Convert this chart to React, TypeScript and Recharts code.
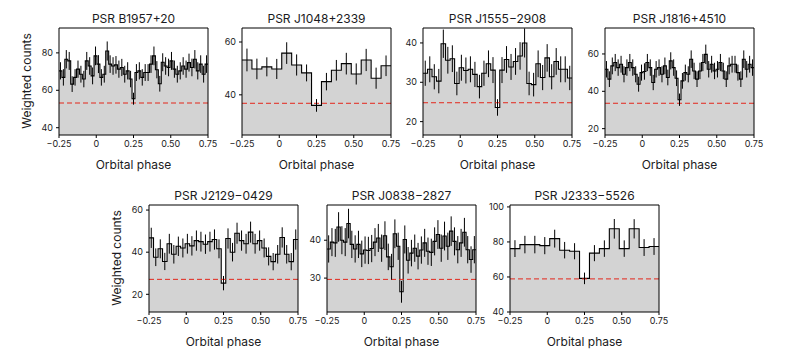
import React from 'react';
import { ComposedChart, Area, Scatter, ErrorBar, XAxis, YAxis, ReferenceLine } from 'recharts';

// ---------- data ----------
const X_TICKS = [-0.25, 0, 0.25, 0.5, 0.75];
const X_TICK_LABELS = ['\u22120.25', '0', '0.25', '0.50', '0.75'];

const b1957Counts = [70.4, 66.9, 76.6, 75.7, 63.3, 66.9, 71.3, 68.6, 66.0, 75.7, 73.0, 67.7, 78.4, 74.0, 66.9, 68.6, 81.0, 74.0, 73.0, 73.6, 71.3, 72.2, 68.6, 70.4, 66.0, 55.5, 69.5, 70.4, 66.9, 69.5, 69.5, 74.0, 78.4, 71.0, 63.5, 75.0, 73.0, 72.2, 75.7, 71.3, 68.6, 70.4, 73.0, 71.3, 74.8, 72.2, 76.6, 70.4, 74.0, 68.6, 74.0];
const b1957Errors = [4.6, 4.4, 4.9, 4.8, 4.2, 4.4, 4.6, 4.5, 4.4, 4.8, 4.7, 4.5, 5.0, 4.8, 4.4, 4.5, 5.1, 4.7, 4.7, 4.7, 4.6, 4.6, 4.5, 4.6, 4.4, 3.2, 4.5, 4.6, 4.4, 4.5, 4.5, 4.7, 5.0, 4.6, 4.2, 4.8, 4.7, 4.7, 4.8, 4.6, 4.5, 4.6, 4.7, 4.6, 4.8, 4.7, 4.9, 4.6, 4.7, 4.5, 4.7];

const j1048Counts = [53.2, 49.8, 50.6, 49.8, 55.8, 51.3, 48.3, 36.0, 45.0, 49.3, 51.8, 47.9, 53.2, 46.3, 51.0];
const j1048Errors = [4.3, 3.9, 3.6, 3.8, 4.1, 4.0, 3.2, 2.4, 3.3, 3.9, 4.1, 4.0, 4.2, 4.0, 3.9];

const j1555Counts = [32.3, 33.3, 31.4, 30.3, 39.8, 35.6, 36.0, 29.7, 33.7, 33.0, 33.3, 32.0, 28.9, 32.3, 34.7, 33.1, 23.6, 33.1, 35.8, 33.9, 35.3, 36.7, 40.0, 29.7, 29.4, 34.7, 31.2, 36.2, 31.4, 35.3, 33.3, 33.3, 31.1];
const j1555Errors = [3.2, 3.3, 3.2, 3.1, 3.6, 3.4, 3.4, 3.0, 3.3, 3.3, 3.3, 3.2, 3.0, 3.2, 3.4, 3.3, 2.1, 3.3, 3.4, 3.3, 3.4, 3.5, 3.7, 3.0, 3.0, 3.4, 3.2, 3.5, 3.2, 3.4, 3.3, 3.3, 3.1];

const j1816Counts = [51.8, 46.5, 53.6, 55.4, 52.7, 54.5, 49.1, 52.7, 55.4, 52.7, 49.1, 43.8, 50.0, 50.6, 55.4, 52.7, 44.7, 51.8, 52.7, 49.1, 53.6, 47.4, 56.3, 52.7, 47.0, 35.5, 45.6, 50.0, 49.1, 57.2, 50.9, 46.5, 50.9, 55.4, 59.8, 51.8, 54.5, 50.9, 51.8, 55.4, 50.9, 46.5, 53.6, 54.5, 54.5, 50.0, 46.5, 57.2, 51.8, 54.5, 52.7];
const j1816Errors = [4.4, 4.2, 4.5, 4.6, 4.4, 4.5, 4.3, 4.4, 4.6, 4.4, 4.3, 4.0, 4.3, 4.4, 4.6, 4.4, 4.1, 4.4, 4.4, 4.3, 4.5, 4.2, 4.6, 4.4, 4.2, 3.3, 4.2, 4.3, 4.3, 4.7, 4.4, 4.2, 4.4, 4.6, 5.2, 4.4, 4.5, 4.4, 4.4, 4.6, 4.4, 4.2, 4.5, 4.5, 4.5, 4.3, 4.2, 4.7, 4.4, 4.5, 4.4];

const j2129Counts = [46.8, 37.6, 41.6, 35.6, 44.0, 39.0, 42.8, 42.0, 44.0, 43.0, 45.5, 45.0, 43.8, 45.0, 46.0, 41.6, 25.3, 46.5, 40.0, 49.0, 45.5, 44.0, 49.5, 44.0, 45.5, 42.0, 38.0, 35.5, 39.0, 47.0, 39.0, 35.5, 46.0];
const j2129Errors = [4.8, 4.2, 4.5, 4.1, 4.7, 4.4, 4.6, 4.5, 4.7, 4.6, 4.8, 4.7, 4.6, 4.7, 4.8, 4.5, 3.4, 4.8, 4.4, 5.0, 4.8, 4.7, 5.0, 4.7, 4.8, 4.5, 4.3, 4.1, 4.4, 4.8, 4.4, 4.1, 4.8];

const j0838Counts = [37.7, 39.5, 39.3, 43.5, 40.0, 39.5, 44.4, 38.9, 37.7, 38.9, 36.4, 37.4, 37.3, 37.8, 39.5, 40.6, 37.9, 41.2, 35.6, 33.0, 41.7, 38.4, 26.4, 40.2, 34.7, 36.6, 37.9, 35.8, 37.4, 39.3, 37.1, 36.8, 39.7, 41.5, 37.9, 41.1, 38.4, 42.4, 39.7, 37.5, 39.3, 42.1, 37.5, 34.9, 37.5];
const j0838Errors = [3.6, 3.7, 3.7, 3.9, 3.7, 3.7, 3.9, 3.6, 3.6, 3.6, 3.5, 3.6, 3.6, 3.6, 3.7, 3.7, 3.6, 3.8, 3.5, 3.4, 3.8, 3.6, 2.9, 3.7, 3.5, 3.5, 3.6, 3.5, 3.6, 3.7, 3.6, 3.6, 3.7, 3.8, 3.6, 3.8, 3.6, 3.9, 3.7, 3.6, 3.7, 3.8, 3.6, 3.5, 3.6];

const j2333Counts = [76.2, 78.5, 78.5, 77.9, 81.9, 75.3, 74.7, 59.2, 73.6, 76.2, 87.5, 76.2, 87.5, 76.8, 77.4];
const j2333Errors = [4.8, 5.0, 5.0, 4.9, 5.1, 4.7, 4.6, 3.3, 4.6, 4.7, 5.6, 4.7, 5.5, 4.8, 4.8];

const titles = ['PSR B1957+20', 'PSR J1048+2339', 'PSR J1555\u22122908', 'PSR J1816+4510', 'PSR J2129\u22120429', 'PSR J0838\u22122827', 'PSR J2333\u22125526'];
const thresholds = [53.2, 36.8, 24.8, 33.6, 27.1, 29.66, 58.9];
const yDomains: [number, number][] = [[36.1, 93.3], [24.8, 65.3], [16.6, 43.8], [16.6, 73.9], [11.6, 62.4], [21.05, 49.3], [40, 101.1]];
const yTicks = [[40, 60, 80], [40, 60], [20, 30, 40], [20, 40, 60], [20, 40, 60], [30, 40], [40, 60, 80, 100]];
const X_LABEL = 'Orbital phase';
const Y_LABEL = 'Weighted counts';

// ---------- layout / style ----------
const FONT = 'Inter, "Noto Sans", sans-serif';
const TEXT = '#1b1b22';
const PLOT_W = 149;
const PLOT_H = 107;
const YW = 36;
const XH = 40;
const MR = 14;
const MT = 4;
const plotPos = [
  [59, 28], [242, 28], [423, 28], [605, 28],
  [149, 205], [327, 205], [510, 205],
];
const showYLabel = [true, false, false, false, true, false, false];

const EmptyShape = () => <g />;

function Panel({ idx, counts, errors }: { idx: number; counts: number[]; errors: number[] }) {
  const n = counts.length;
  const steps = counts.map((v, i) => ({ x: -0.25 + i / n, v }));
  steps.push({ x: 0.75, v: counts[n - 1] });
  const bars = counts.map((v, i) => ({ x: -0.25 + (i + 0.5) / n, v, e: errors[i] }));
  const [pl, pt] = plotPos[idx];
  const domain = yDomains[idx];
  const tickStyle = { fontSize: 9, fill: TEXT, fontFamily: FONT };
  const textBase: React.CSSProperties = {
    position: 'absolute', fontFamily: FONT, fontSize: 12, color: TEXT,
    textAlign: 'center', lineHeight: '16px', height: 16, whiteSpace: 'nowrap',
  };
  return (
    <>
      <div style={{ position: 'absolute', left: pl - YW, top: pt - MT }}>
        <ComposedChart
          width={YW + PLOT_W + MR}
          height={MT + PLOT_H + XH}
          data={steps}
          margin={{ top: MT, right: MR, bottom: 0, left: 0 }}
        >
          <XAxis
            dataKey="x" type="number" domain={[-0.25, 0.75]} ticks={X_TICKS} interval={0}
            allowDataOverflow height={XH} tickSize={3} tickMargin={3} stroke="#000"
            tick={tickStyle}
            tickFormatter={(v: number) => X_TICK_LABELS[X_TICKS.indexOf(v)] ?? String(v)}
          />
          <YAxis
            type="number" domain={domain} ticks={yTicks[idx]} interval={0} allowDataOverflow
            width={YW} tickSize={3} tickMargin={3} stroke="#000" tick={tickStyle}
          />
          <Area
            type="stepAfter" dataKey="v" stroke="#000" strokeWidth={1.1} fill="#d3d3d3" fillOpacity={1}
            isAnimationActive={false} dot={false} activeDot={false} baseValue="dataMin"
          />
          <ReferenceLine y={thresholds[idx]} stroke="#e3261b" strokeDasharray="5 3" strokeWidth={1} />
          <ReferenceLine y={domain[1]} stroke="#000" strokeWidth={1} />
          <ReferenceLine x={0.75} stroke="#000" strokeWidth={1} />
          <Scatter data={bars} dataKey="v" shape={EmptyShape} isAnimationActive={false}>
            <ErrorBar dataKey="e" direction="y" width={0} stroke="#000" strokeWidth={1} />
          </Scatter>
        </ComposedChart>
      </div>
      <div style={{ ...textBase, left: pl + PLOT_W / 2 - 100, width: 200, top: pt - 9 - 8 }}>{titles[idx]}</div>
      <div style={{ ...textBase, left: pl + PLOT_W / 2 - 100, width: 200, top: pt + PLOT_H + 30 - 8 }}>{X_LABEL}</div>
      {showYLabel[idx] && (
        <div style={{ ...textBase, left: pl - 32.5 - 70, width: 140, top: pt + PLOT_H / 2 - 1 - 8, transform: 'rotate(-90deg)' }}>
          {Y_LABEL}
        </div>
      )}
    </>
  );
}

export default function App() {
  const series: [number[], number[]][] = [
    [b1957Counts, b1957Errors],
    [j1048Counts, j1048Errors],
    [j1555Counts, j1555Errors],
    [j1816Counts, j1816Errors],
    [j2129Counts, j2129Errors],
    [j0838Counts, j0838Errors],
    [j2333Counts, j2333Errors],
  ];
  return (
    <div style={{ position: 'absolute', left: 0, top: 0, width: 785, height: 354, background: '#fff', overflow: 'hidden' }}>
      {series.map(([c, e], i) => (
        <Panel key={i} idx={i} counts={c} errors={e} />
      ))}
    </div>
  );
}
